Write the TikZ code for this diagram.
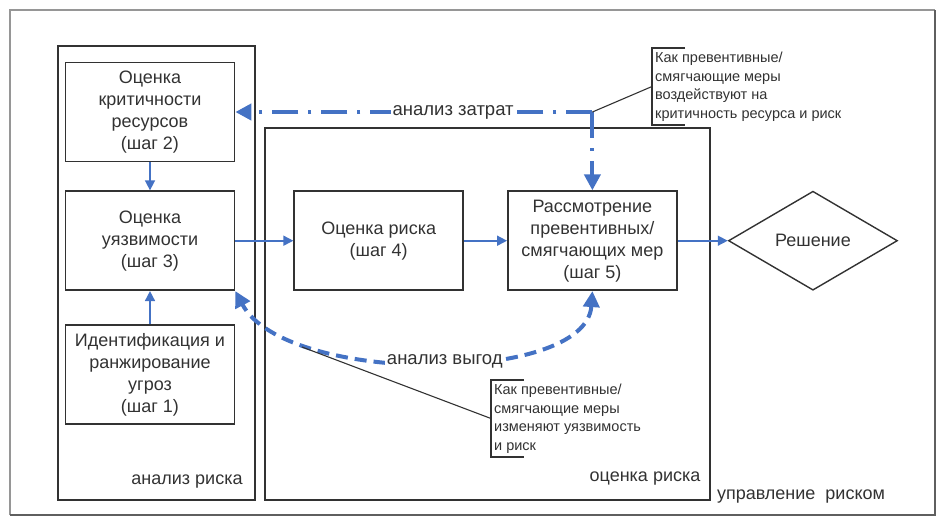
\documentclass[tikz,border=0pt]{standalone}
\usepackage{fontspec}
\setmainfont{Liberation Sans}
\usetikzlibrary{shapes.geometric, arrows.meta, positioning, calc}

\definecolor{flowblue}{RGB}{68,114,196}
\definecolor{textgray}{RGB}{50,50,50}
\definecolor{framegray}{RGB}{150,150,150}
\definecolor{shadegray}{RGB}{95,95,95}

\begin{document}
\begin{tikzpicture}[x=1pt, y=-1pt,
    % Define styles
    box/.style={rectangle, draw=textgray, line width=1.7pt, minimum width=169pt, minimum height=99pt, inner sep=2pt, align=center, text=textgray, font=\fontsize{18}{22}\selectfont},
    group_box/.style={rectangle, draw=textgray, line width=1.7pt},
    decision/.style={diamond, draw=textgray, line width=1.4pt, minimum width=169pt, minimum height=99pt, inner sep=0pt, text=textgray, font=\fontsize{18}{22}\selectfont},
    note/.style={align=left, text=textgray, inner xsep=3pt, inner ysep=2pt, minimum height=77pt, font=\fontsize{14.5}{18.5}\selectfont},
    bracket/.style={draw=textgray, line width=1.5pt},
    leader/.style={draw=textgray, line width=1.1pt},
    grouptext/.style={text=textgray, inner sep=1pt, font=\fontsize{18}{22}\selectfont},
    flowtext/.style={fill=white, text=textgray, inner sep=2pt, font=\fontsize{18.5}{22}\selectfont},
    arrow/.style={-{Triangle[length=10pt, width=10pt]}, draw=flowblue, line width=1.6pt},
    cost/.style={-{Triangle[length=16pt, width=16pt]}, draw=flowblue, line width=4pt, dash pattern=on 26pt off 10pt on 3pt off 10pt},
    benefit/.style={{Triangle[length=16pt, width=16pt]}-{Triangle[length=16pt, width=16pt]}, draw=flowblue, line width=4pt, dash pattern=on 12pt off 7pt},
    ]

    \useasboundingbox (0,0) rectangle (945,523);
    \draw[framegray, line width=1.2pt] (10,515) -- (10,10) -- (935,10);
    \draw[shadegray, line width=1.4pt] (935,10) -- (935,515) -- (10,515);

    % Group boxes
    \node[group_box, minimum width=197pt, minimum height=454pt] (analysis) at (156.5,273) {};
    \node[group_box, minimum width=445pt, minimum height=372pt] (assessment) at (487.5,314) {};

    % Steps
    \node[box] (step2) at (150,112) {Оценка\\критичности\\ресурсов\\(шаг 2)};
    \node[box, below=28pt of step2] (step3) {Оценка\\уязвимости\\(шаг 3)};
    \node[box, below=33pt of step3] (step1) {Идентификация и\\ранжирование\\угроз\\(шаг 1)};
    \node[box, right=58pt of step3] (step4) {Оценка риска\\(шаг 4)};
    \node[box, right=43pt of step4] (step5) {Рассмотрение\\превентивных/\\смягчающих мер\\(шаг 5)};
    \node[decision, right=50pt of step5] (decision) {Решение};

    % Group labels
    \node[grouptext] (analysis_text) at (187,482) {анализ риска};
    \node[grouptext] (assessment_text) at (645,479) {оценка риска};
    \node[grouptext] (management_text) at (801,497) {управление~~риском};

    % Notes
    \node[note, anchor=west] (note1) at (652,86.5) {Как превентивные/\\смягчающие меры\\воздействуют на\\критичность ресурса и риск};
    \node[note, anchor=west] (note2) at (491,418.5) {Как превентивные/\\смягчающие меры\\изменяют уязвимость\\и риск};
    \draw[bracket] ([xshift=33pt]note1.north west) -- (note1.north west) -- (note1.south west) -- ([xshift=33pt]note1.south west);
    \draw[bracket] ([xshift=33pt]note2.north west) -- (note2.north west) -- (note2.south west) -- ([xshift=33pt]note2.south west);

    % Arrows
    \draw[arrow] (step2) -- (step3);
    \draw[arrow] (step1) -- (step3);
    \draw[arrow] (step3) -- (step4);
    \draw[arrow] (step4) -- (step5);
    \draw[arrow] (step5) -- (decision);

    % Cost analysis
    \coordinate (cost_turn) at (step5.north |- step2.east);
    \draw[cost] (cost_turn) -- node[flowtext, pos=0.39] (cost_text) {анализ затрат} (step2.east);
    \draw[cost] (cost_turn) -- (step5.north);

    % Benefit analysis
    \draw[benefit] (step5.south) .. controls (586,385) and (285,385) .. node[flowtext, pos=0.47] (benefit_text) {анализ выгод} (step3.south east);
    \coordinate (benefit_pt) at (302,347);

    % Leader lines
    \draw[leader] (note1.west) -- (cost_turn);
    \draw[leader] (note2.west) -- (benefit_pt);

\end{tikzpicture}
\end{document}
